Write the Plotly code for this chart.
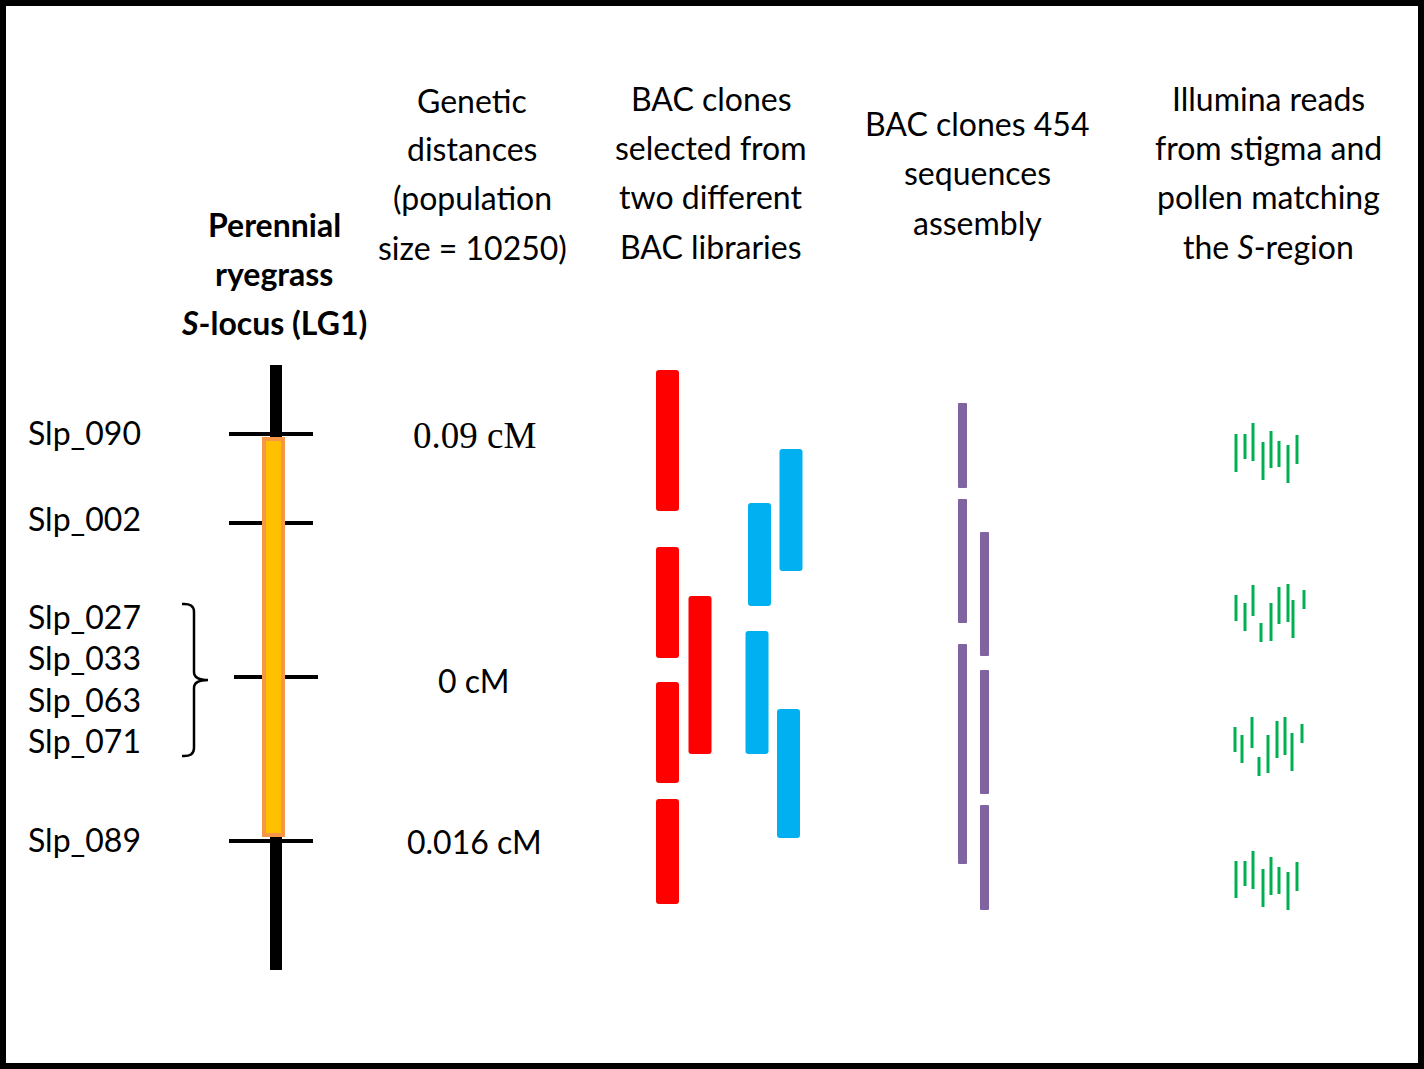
import plotly.graph_objects as go

# ---------------- data (diagram units: 1 unit = 1 px of the 1424x1069 canvas) ----------------
W, H = 1424, 1069

marker_names = ["Slp_090", "Slp_002", "Slp_027", "Slp_033", "Slp_063", "Slp_071", "Slp_089"]
marker_label_y = [434, 520, 618, 659, 701, 742, 841]
tick_y = [434, 523, 677, 841]
tick_x0 = [229, 229, 234, 229]
tick_x1 = [313, 313, 318, 313]

chrom_top, chrom_bottom = 365, 970
slocus_top, slocus_bottom = 437, 837

dist_labels = ["0.09 cM", "0 cM", "0.016 cM"]
dist_y = [437, 682, 843]
dist_serif = [True, False, False]

red_x = [667.5, 667.5, 667.5, 667.5, 700]
red_start = [370, 547, 682, 799, 596]
red_end = [511, 658, 783, 904, 754]

blue_x = [791, 759.5, 757, 788.5]
blue_start = [449, 503, 631, 709]
blue_end = [571, 606, 754, 838]

purple_x = [962.5, 962.5, 962.5, 984.5, 984.5, 984.5]
purple_start = [403, 499, 644, 532, 670, 805]
purple_end = [488, 623, 864, 656, 794, 910]

# Illumina read groups: x of each read, start, end
read_groups = [
    ([1236, 1245, 1253, 1263, 1271, 1279, 1288, 1297],
     [434, 434, 423, 442, 431, 441, 445, 435],
     [472, 459, 461, 480, 468, 467, 483, 464]),
    ([1236, 1245, 1253, 1261, 1271, 1279, 1288, 1293, 1304],
     [595, 603, 585, 623, 603, 587, 584, 600, 590],
     [621, 631, 616, 642, 641, 624, 622, 638, 609]),
    ([1235, 1242, 1252, 1259, 1268, 1277, 1285, 1292, 1302],
     [727, 735, 717, 757, 735, 721, 717, 733, 724],
     [752, 763, 748, 776, 773, 758, 755, 771, 743]),
    ([1236, 1245, 1253, 1263, 1271, 1279, 1288, 1297],
     [861, 861, 851, 869, 857, 867, 872, 862],
     [898, 886, 889, 907, 895, 894, 910, 891]),
]

headers = [
    (274, [226, 275, 324], ["Perennial", "ryegrass", "<i>S</i>-locus (LG1)"], True),
    (472, [102, 150, 199, 249], ["Genetic", "distances", "(population", "size = 10250)"], False),
    (711, [100, 149, 198, 248], ["BAC clones", "selected from", "two different", "BAC libraries"], False),
    (977, [125, 174, 224], ["BAC clones 454", "sequences", "assembly"], False),
    (1268, [100, 149, 198, 248], ["Illumina reads", "from stigma and", "pollen matching", "the <i>S</i>-region"], False),
]

RED, BLUE, PURPLE, GREEN = "#FF0000", "#00B0F0", "#8064A2", "#00B050"
SANS = "Lato, Noto Sans, sans-serif"
SERIF = "Liberation Serif, Times New Roman, serif"
TEXT_SHIFT = 2

# ---------------- figure ----------------
fig = go.Figure()
fig.add_trace(go.Scatter(x=[0, W], y=[0, H], mode="markers", marker=dict(opacity=0), hoverinfo="skip", showlegend=False))

shapes = []

def rrect(xc, y0, y1, w, color, r=3):
    x0, x1 = xc - w / 2, xc + w / 2
    p = (f"M {x0+r},{y0} L {x1-r},{y0} Q {x1},{y0} {x1},{y0+r} L {x1},{y1-r} Q {x1},{y1} {x1-r},{y1} "
         f"L {x0+r},{y1} Q {x0},{y1} {x0},{y1-r} L {x0},{y0+r} Q {x0},{y0} {x0+r},{y0} Z")
    shapes.append(dict(type="path", path=p, xref="x", yref="y", fillcolor=color, line=dict(width=0)))

# chromosome
shapes.append(dict(type="rect", xref="x", yref="y", x0=270, x1=282, y0=chrom_top, y1=chrom_bottom,
                   fillcolor="black", line=dict(width=0)))
for ty, a, b in zip(tick_y, tick_x0, tick_x1):
    shapes.append(dict(type="line", xref="x", yref="y", x0=a, x1=b, y0=ty, y1=ty,
                       line=dict(color="black", width=4)))
shapes.append(dict(type="rect", xref="x", yref="y", x0=264, x1=283,
                   y0=slocus_top + 2, y1=slocus_bottom - 2,
                   fillcolor="#FFC000", line=dict(color="#F79646", width=4)))

# bracket
br = ("M 182,604 Q 194,603 194,612 L 194,672 Q 194,680 208,680 "
      "Q 194,680 194,688 L 194,748 Q 194,757 182,756")
shapes.append(dict(type="path", path=br, xref="x", yref="y", line=dict(color="black", width=2.5)))

for xc, a, b in zip(red_x, red_start, red_end):
    rrect(xc, a, b, 23, RED)
for xc, a, b in zip(blue_x, blue_start, blue_end):
    rrect(xc, a, b, 23, BLUE)
for xc, a, b in zip(purple_x, purple_start, purple_end):
    rrect(xc, a, b, 9, PURPLE, r=1)

for xs, ss, es in read_groups:
    for xx, a, b in zip(xs, ss, es):
        shapes.append(dict(type="line", xref="x", yref="y", x0=xx, x1=xx, y0=a, y1=b,
                           line=dict(color=GREEN, width=3)))

# frame
shapes.append(dict(type="rect", xref="x", yref="y", x0=3, x1=W - 3, y0=3, y1=H - 3,
                   line=dict(color="black", width=6)))

ann = []
for name, yy in zip(marker_names, marker_label_y):
    ann.append(dict(x=26, y=yy, text=name, xanchor="left", yanchor="middle", showarrow=False,
                    yshift=TEXT_SHIFT, font=dict(family=SANS, size=32, color="black")))
for t, yy, serif in zip(dist_labels, dist_y, dist_serif):
    ann.append(dict(x=474, y=yy, text=t, xanchor="center", yanchor="middle", showarrow=False,
                    yshift=TEXT_SHIFT,
                    font=dict(family=SERIF if serif else SANS, size=37 if serif else 32, color="black")))
for xc, ys, lines, bold in headers:
    for yy, t in zip(ys, lines):
        txt = f"<b>{t}</b>" if bold else t
        ann.append(dict(x=xc, y=yy, text=txt, xanchor="center", yanchor="middle", showarrow=False,
                        yshift=TEXT_SHIFT, font=dict(family=SANS, size=32, color="black")))

fig.update_layout(
    width=W, height=H, margin=dict(l=0, r=0, t=0, b=0),
    paper_bgcolor="white", plot_bgcolor="white",
    xaxis=dict(range=[0, W], visible=False, fixedrange=True),
    yaxis=dict(range=[H, 0], visible=False, fixedrange=True),
    shapes=shapes, annotations=ann, showlegend=False,
)
fig.write_html(
    "out.html",
    config=dict(displayModeBar=False),
    post_script="document.body.style.margin='0';document.body.style.overflow='hidden';",
)
